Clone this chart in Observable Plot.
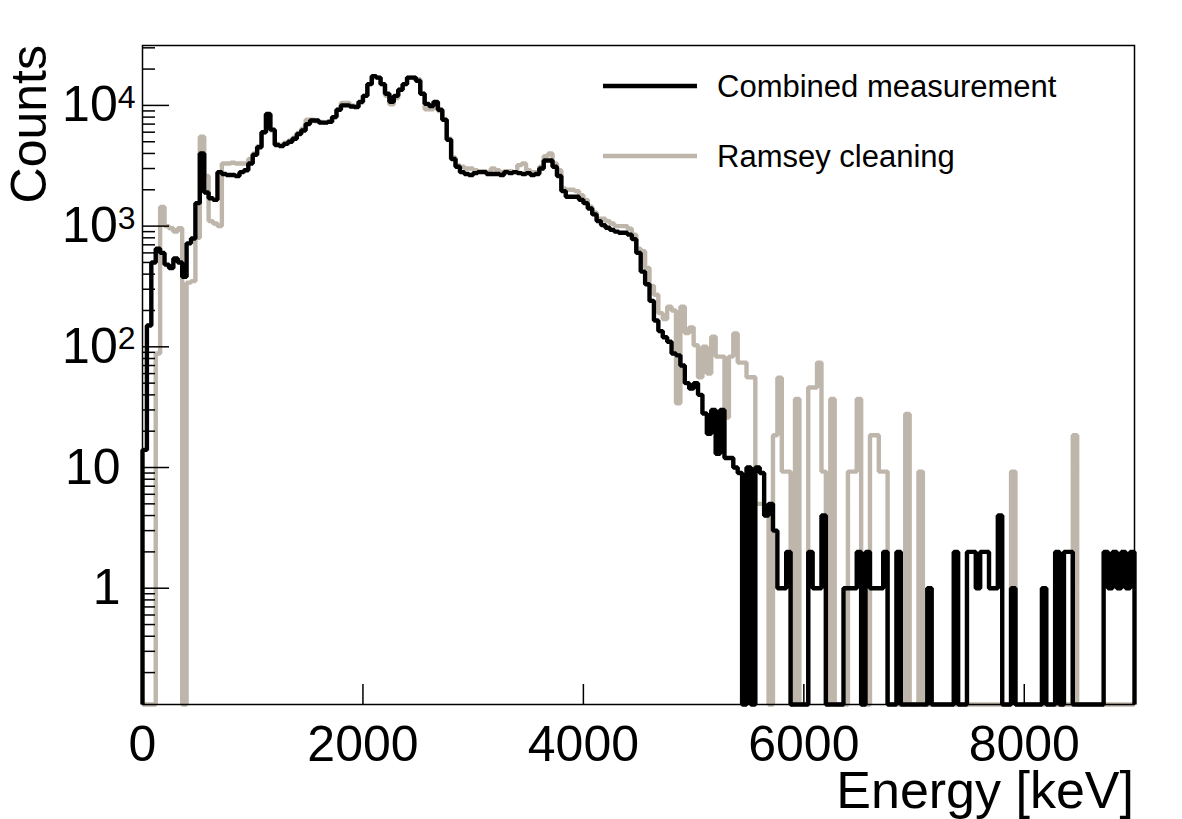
<!DOCTYPE html>
<html>
<head>
<meta charset="utf-8">
<script src="https://cdn.jsdelivr.net/npm/d3@7"></script>
<script src="https://cdn.jsdelivr.net/npm/@observablehq/plot@0.6"></script>
<style>
  html, body { margin: 0; padding: 0; background: #fff; }
  #chart svg { display: block; }
</style>
</head>
<body>
<div id="chart"></div>
<script>
// Energy spectrum, 40 keV bins from 0 to 9000 keV (225 bins)
const binWidth = 40;

// Counts per bin, combined measurement
const combined = [
  14, 150, 500, 650, 600, 480, 450, 540, 500, 380,
  720, 790, 1550, 4000, 1900, 1700, 1650, 2800, 2700, 2650,
  2650, 2600, 2800, 2900, 3300, 3900, 4500, 6000, 8500, 6300,
  4700, 4600, 4800, 5000, 5300, 5800, 6200, 7000, 7500, 7500,
  7200, 7200, 7300, 8000, 9200, 10000, 10000, 9800, 9700, 10700,
  12000, 15000, 17500, 17000, 15000, 12500, 10700, 12000, 13500, 15000,
  17000, 17000, 16000, 12500, 10300, 9900, 10700, 9200, 7600, 5200,
  3600, 3100, 2800, 2700, 2650, 2750, 2800, 2800, 2700, 2700,
  2700, 2650, 2800, 2750, 2800, 2750, 2700, 2750, 2650, 2700,
  3000, 3500, 3500, 3100, 2600, 1950, 1750, 1750, 1750, 1650,
  1550, 1400, 1250, 1100, 1020, 970, 930, 900, 880, 880,
  850, 780, 600, 420, 330, 240, 165, 135, 120, 110,
  88, 85, 70, 50, 45, 50, 40, 28, 19, 30,
  13, 30, 12, 12, 10, 9, 0, 10, 0, 10,
  9, 4, 5, 3, 1, 1, 2, 0, 0, 0,
  0, 2, 1, 1, 4, 0, 0, 0, 0, 1,
  1, 1, 2, 0, 2, 1, 1, 1, 2, 0,
  0, 2, 0, 0, 0, 0, 0, 0, 1, 0,
  0, 0, 0, 0, 2, 0, 0, 2, 2, 1,
  2, 2, 1, 1, 4, 0, 0, 1, 0, 0,
  0, 0, 0, 0, 1, 0, 0, 2, 0, 2,
  2, 0, 0, 0, 0, 0, 0, 0, 2, 1,
  2, 1, 2, 1, 2
];

// Counts per bin, Ramsey cleaning (scaled)
const ramsey = [
  0, 0, 0, 88, 1440, 1000, 960, 900, 960, 0,
  340, 350, 800, 5500, 2600, 1100, 1050, 1000, 3300, 3300,
  3350, 3300, 3300, 3300, 3600, 4000, 4600, 6000, 8300, 6200,
  4800, 4700, 4900, 5100, 5400, 5900, 6400, 7600, 7600, 7400,
  7300, 7200, 7400, 8000, 9200, 10500, 10500, 10000, 9800, 10500,
  12000, 15000, 17000, 17000, 15000, 12000, 10200, 11500, 13500, 15000,
  17000, 17000, 16500, 12500, 9300, 9300, 10200, 9000, 7600, 5300,
  3700, 3200, 3100, 3000, 3000, 2900, 2850, 2850, 2800, 3000,
  2900, 2800, 2850, 2850, 2800, 3200, 3300, 2900, 2800, 2800,
  3100, 3800, 4000, 3300, 2900, 2050, 2000, 2000, 1950, 1800,
  1650, 1450, 1300, 1150, 1150, 1100, 1050, 1000, 1000, 1000,
  950, 850, 650, 620, 450, 320, 270, 190, 170, 215,
  200, 34, 215, 130, 145, 103, 56, 100, 60, 121,
  83, 83, 26, 83, 129, 74, 74, 56, 56, 5,
  5, 4, 0, 18.5, 55.5, 9.25, 9.25, 0, 37, 0,
  0, 46, 46, 74, 9.25, 0, 37, 0, 0, 0,
  9.25, 9.25, 37, 0, 0, 18.5, 18.5, 9.25, 9.25, 0,
  0, 0, 0, 27.75, 0, 0, 9.25, 0, 0, 0,
  0, 0, 0, 0, 0, 0, 0, 0, 0, 0,
  0, 0, 0, 0, 0, 0, 0, 9.25, 0, 0,
  0, 0, 0, 0, 0, 0, 0, 0, 0, 0,
  0, 18.5, 0, 0, 0, 0, 0, 0, 0, 0,
  0, 0, 0, 0, 0
];

// Axis ticks and legend entries
const xTicks = [0, 2000, 4000, 6000, 8000];
const yMajor = [1, 10, 100, 1000, 10000];
const yMinor = [0.2, 0.3, 0.4, 0.5, 0.6, 0.7, 0.8, 0.9,
  2, 3, 4, 5, 6, 7, 8, 9,
  20, 30, 40, 50, 60, 70, 80, 90,
  200, 300, 400, 500, 600, 700, 800, 900,
  2000, 3000, 4000, 5000, 6000, 7000, 8000, 9000,
  20000, 30000];
const seriesNames = ["Combined measurement", "Ramsey cleaning"];
const xTitle = "Energy [keV]";
const yTitle = "Counts";

const BLACK = "#000000";
const GRAY = "#bfb6ab";
const FONT = '"Liberation Sans", Arial, Helvetica, sans-serif';

const W = 1182, H = 819;
const mTop = 45, mRight = 48, mBottom = 115, mLeft = 142;
const plotW = W - mLeft - mRight, plotH = H - mTop - mBottom;
const yMin = 0.1088, yMax = 31360;

// Histogram outline: rises from the baseline at the first edge, steps across
// each bin, drops back at the last edge. Empty bins sit on the baseline.
function outline(counts) {
  const v = c => (c > 0 ? c : yMin);
  const pts = [{e: 0, c: yMin}];
  counts.forEach((c, i) => pts.push({e: i * binWidth, c: v(c)}));
  const end = counts.length * binWidth;
  pts.push({e: end, c: v(counts[counts.length - 1])});
  pts.push({e: end, c: yMin});
  return pts;
}

const lineStyle = {x: "e", y: "c", curve: "step-after", strokeWidth: 4.4,
  strokeLinejoin: "miter", strokeLinecap: "butt"};

const chart = Plot.plot({
  width: W, height: H,
  marginTop: mTop, marginRight: mRight, marginBottom: mBottom, marginLeft: mLeft,
  style: {fontFamily: FONT, fontSize: "50px", color: "black", background: "white", overflow: "visible"},
  x: {domain: [0, 9000], label: null},
  y: {type: "log", domain: [yMin, yMax], label: null},
  marks: [
    Plot.line(outline(ramsey), {...lineStyle, stroke: GRAY}),
    Plot.line(outline(combined), {...lineStyle, stroke: BLACK}),
    Plot.tickY(yMinor, {y: d => d, stroke: BLACK, strokeWidth: 1.5, insetRight: plotW - 13}),
    Plot.tickY(yMajor, {y: d => d, stroke: BLACK, strokeWidth: 1.5, insetRight: plotW - 27}),
    Plot.tickX(xTicks, {x: d => d, stroke: BLACK, strokeWidth: 1.5, insetTop: plotH - 20}),
    Plot.axisX({ticks: xTicks, tickSize: 0, tickPadding: 21, tickFormat: d => String(d), fontSize: 50}),
    Plot.axisY({ticks: yMajor, tickSize: 0, tickPadding: 22,
      tickFormat: d => (d >= 100 ? "10^" + Math.round(Math.log10(d)) : String(d)), fontSize: 50}),
    Plot.frame({stroke: BLACK, strokeWidth: 1.5})
  ]
});

document.getElementById("chart").appendChild(chart);

const svg = d3.select(chart);

// Powers of ten as 10 with a raised exponent
svg.selectAll('g[aria-label="y-axis tick label"] text').each(function () {
  const t = this.textContent;
  if (t.includes("^")) {
    const [base, exp] = t.split("^");
    const s = d3.select(this);
    s.text(null);
    s.append("tspan").text(base);
    s.append("tspan").attr("dy", "-0.42em").attr("font-size", "32px").text(exp);
    s.attr("x", 15);
  }
});

// Axis titles
svg.append("text")
  .attr("transform", `translate(46,${mTop}) rotate(-90)`)
  .attr("text-anchor", "end")
  .attr("font-family", FONT).attr("font-size", 50)
  .text(yTitle);
svg.append("text")
  .attr("x", W - mRight).attr("y", 808)
  .attr("text-anchor", "end")
  .attr("font-family", FONT).attr("font-size", 52)
  .text(xTitle);

// Legend
const legend = svg.append("g")
  .attr("font-family", FONT).attr("font-size", 31).attr("text-anchor", "start");
[{name: seriesNames[0], color: BLACK, y: 86}, {name: seriesNames[1], color: GRAY, y: 156}]
  .forEach(({name, color, y}) => {
    legend.append("line")
      .attr("x1", 603).attr("x2", 697).attr("y1", y).attr("y2", y)
      .attr("stroke", color).attr("stroke-width", 4.4);
    legend.append("text")
      .attr("x", 717).attr("y", y + 11)
      .attr("text-anchor", "start")
      .text(name);
  });
</script>
</body>
</html>
